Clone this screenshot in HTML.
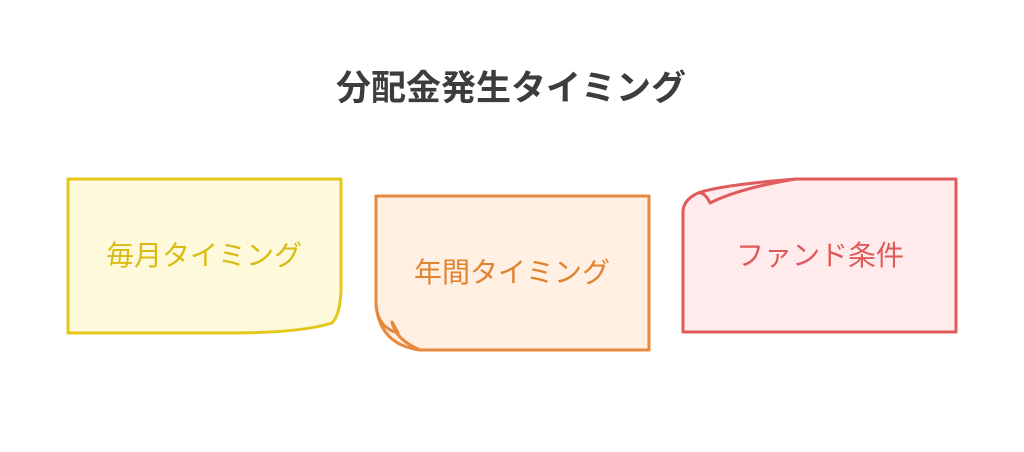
<!DOCTYPE html>
<html><head><meta charset="utf-8"><style>
html,body{margin:0;padding:0;background:#fff;}
svg{display:block;}
text{font-family:"Liberation Sans","Noto Sans CJK JP",sans-serif;}
</style></head><body>
<svg width="1024" height="452" viewBox="0 0 1024 452" xmlns="http://www.w3.org/2000/svg">
<text x="511" y="100" text-anchor="middle" font-size="35" font-weight="bold" fill="#3d3d3d">分配金発生タイミング</text>

<path d="M68,179 H341 V290 Q340,315 332,323 Q300,333 230,333 H68 Z" fill="#fff9db" stroke="#e2c81c" stroke-width="3" stroke-linejoin="round"/>
<text x="204" y="265" text-anchor="middle" font-size="28" fill="#d9bb16">毎月タイミング</text>

<path d="M376,196 H649 V350 H420 Q380,345 376,305 Z" fill="#fff0e3" stroke="#e8883a" stroke-width="3" stroke-linejoin="round"/>
<path d="M376,305 Q378,328 398,333 L392,322 Q396,340 420,350" fill="none" stroke="#e8883a" stroke-width="3" stroke-linejoin="round"/>
<text x="512" y="282" text-anchor="middle" font-size="28" fill="#e0822e">年間タイミング</text>

<path d="M683,332 H956 V179 H796 Q720,185 698,193 Q683,200 683,212 Z" fill="#ffebeb" stroke="#e05c5c" stroke-width="3" stroke-linejoin="round"/>
<path d="M698,193 Q705,192 710,203 Q740,188 796,179" fill="none" stroke="#e05c5c" stroke-width="3" stroke-linejoin="round"/>
<text x="820" y="265" text-anchor="middle" font-size="28" fill="#e05a5a">ファンド条件</text>
</svg>
</body></html>
